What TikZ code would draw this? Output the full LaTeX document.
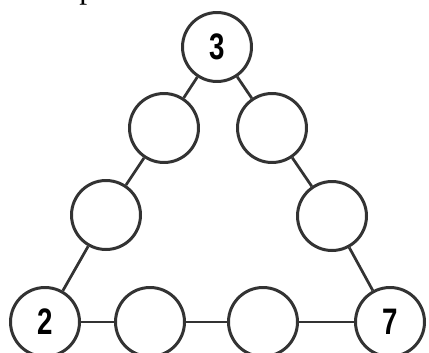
\documentclass[tikz,border=0pt]{standalone}
\usepackage{fontspec}
\setmainfont{Liberation Serif}
\newfontfamily\numfont[FakeStretch=0.75]{Liberation Sans}
\usetikzlibrary{positioning}

\begin{document}
\begin{tikzpicture}[x=0.02cm,y=-0.02cm,
        spot/.style={circle,draw=black!80,line width=0.06cm,minimum size=1.38cm,inner sep=0pt,
            font=\numfont\bfseries\fontsize{21}{21}\selectfont},
        link/.style={draw=black!80,line width=0.055cm}]
        \useasboundingbox (0,0) rectangle (429,352);
        \clip (0,0) rectangle (429,352);
        % cut-off text above the puzzle
        \node[anchor=base west,inner sep=0pt,font=\fontsize{18}{18}\selectfont] (cut) at (79,-2) {p};
        % corners
        \node[spot] (top) at (217,47) {3};
        \node[spot] (left) at (45,322) {2};
        \node[spot] (right) at (390,322) {7};
        % left side
        \node[spot] (l1) at (164,128) {};
        \node[spot] (l2) at (106,215) {};
        % right side
        \node[spot] (r1) at (272,128) {};
        \node[spot] (r2) at (332,216) {};
        % bottom side
        \node[spot] (b1) at (150,322) {};
        \node[spot] (b2) at (263,322) {};
        \draw[link] (top) -- (l1) (l1) -- (l2) (l2) -- (left);
        \draw[link] (top) -- (r1) (r1) -- (r2) (r2) -- (right);
        \draw[link] (left) -- (b1) (b1) -- (b2) (b2) -- (right);
    \end{tikzpicture}
\end{document}
